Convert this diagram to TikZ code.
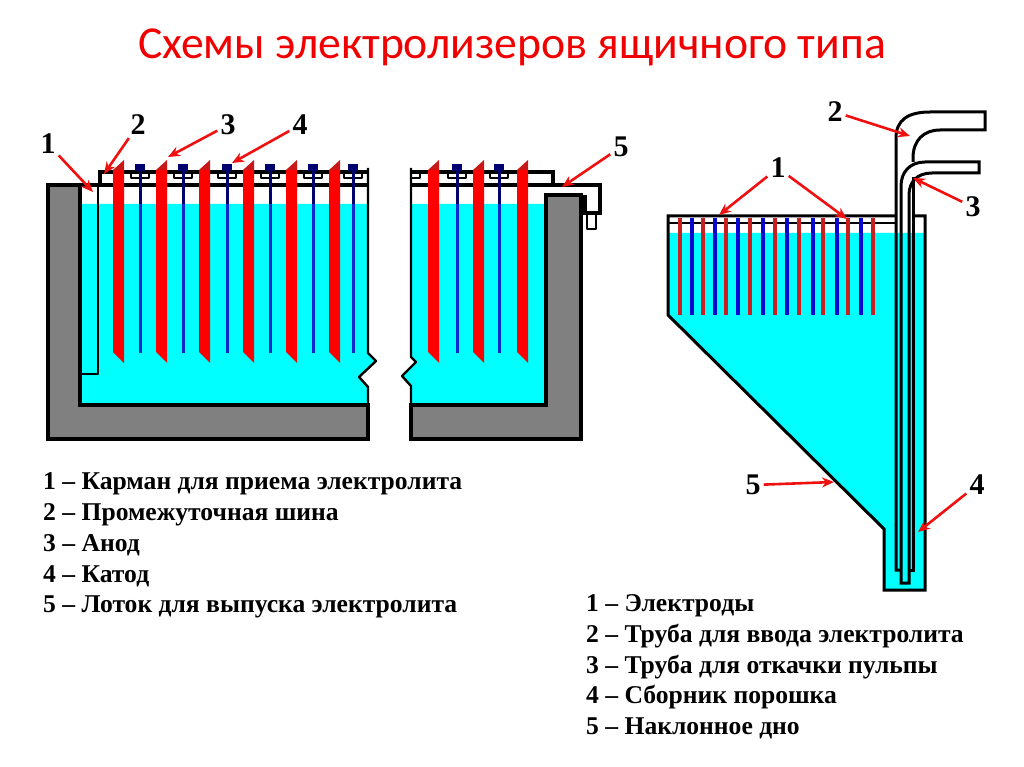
\documentclass[tikz,border=0pt]{standalone}
\usepackage{fontspec}
\setmainfont{Liberation Serif}
\newfontfamily\titlefont{Carlito}
\usetikzlibrary{arrows.meta}

\begin{document}
\begin{tikzpicture}[x=1pt, y=-1pt]

% ---------------------------------------------------------------- colours
\definecolor{bath}{HTML}{00FFFF}     % electrolyte
\definecolor{wall}{HTML}{808080}     % lining
\definecolor{anode}{HTML}{FF0000}
\definecolor{anodetop}{HTML}{C81818}
\definecolor{cathode}{HTML}{0A2ACC}
\definecolor{cathodehead}{HTML}{00006E}
\definecolor{platered}{HTML}{C82020}
\definecolor{plateblue}{HTML}{0808D0}
\definecolor{arrowred}{HTML}{F01010}
\definecolor{titlered}{HTML}{F00000}

\tikzset{
    outline/.style={draw=black, line width=3.4pt, line join=miter},
    pipeline/.style={draw=black, line width=3pt, line join=miter},
    thinline/.style={draw=black, line width=2.4pt, line join=round},
    callout/.style={draw=arrowred, line width=2.6pt, -{Stealth[length=12pt, width=10pt]}},
    num/.style={font=\fontsize{30}{30}\selectfont\bfseries, inner sep=3pt},
    legend/.style={font=\fontsize{25.6}{30}\selectfont\bfseries, anchor=base west, inner sep=0pt},
}

\useasboundingbox (0,0) rectangle (1024,767);

\node[font=\titlefont\fontsize{45.7}{54}\selectfont, text=titlered] (title) at (512,47)
    {Схемы электролизеров ящичного типа};

% ================================================================
% LEFT CELL
%   outer wall x = 48, inner wall x = 80, right wall x = 546 .. 581
%   break in the tank x = 368 .. 411
%   bath surface y = 204, floor y = 405, base y = 439
% ================================================================

% ---------------------------------------------------------------- bath
\fill[bath] (80,204) -- (368,204) -- (368,353) -- (376,361) -- (359,377)
    -- (368,387) -- (368,405) -- (80,405) -- cycle;
\fill[bath] (411,204) -- (546,204) -- (546,405) -- (411,405) -- (411,386)
    -- (402,376) -- (416,362) -- (411,357) -- cycle;

% ---------------------------------------------------------------- lining
\filldraw[outline, fill=wall] (368,405) -- (80,405) -- (80,185) -- (48,185)
    -- (48,439) -- (368,439) -- cycle;
\filldraw[outline, fill=wall] (411,405) -- (546,405) -- (546,195) -- (581,195)
    -- (581,439) -- (411,439) -- cycle;

% ---------------------------------------------------------------- pocket, bus, broken edges
\draw[thinline] (80,374) -- (98,374) -- (98,185);
\draw[outline] (80,185) -- (368,185);
\draw[outline] (100,185) -- (100,172) -- (368,172);
\draw[thinline] (368,168) -- (368,353) -- (376,361) -- (359,377) -- (368,387) -- (368,405);
\draw[thinline] (411,168) -- (411,357) -- (416,362) -- (402,376) -- (411,386) -- (411,405);
\draw[outline] (411,172) -- (553,172) -- (553,185);
\draw[outline] (411,185) -- (600,185) -- (600,213) -- (585,213) -- (585,195);
\draw[thinline] (587,213) -- (587,229) -- (596,229) -- (596,213);
\draw[thinline] (411,178) -- (420,178) -- (420,172);

% ---------------------------------------------------------------- anodes
\foreach \x in {113,156,199,243,286,329,428,473,517} {
    \fill[anode] (\x,170) -- (\x+11,170) -- (\x+11,363) -- (\x,352) -- cycle;
    \fill[anodetop] (\x,170) -- (\x+11,160) -- (\x+11,170) -- cycle;
}

% ---------------------------------------------------------------- cathodes
\foreach \x in {140,183,227,270,313,353,457,499} {
    \draw[thinline] (\x-9,172) -- (\x-9,178) -- (\x+9,178) -- (\x+9,172);
    \fill[cathode] (\x-1.5,170) rectangle (\x+1.5,353);
    \fill[cathodehead] (\x-5,164) rectangle (\x+5,171);
    \fill[cathodehead] (\x-1.5,171) rectangle (\x+1.5,204);
}

% ---------------------------------------------------------------- left callouts
\node[num] (l1) at (48,144) {1};
\node[num] (l2) at (138,125) {2};
\node[num] (l3) at (228,125) {3};
\node[num] (l4) at (300,125) {4};
\node[num] (l5) at (621,147) {5};
\coordinate (pocket) at (93,192);
\coordinate (bus) at (104,174);
\coordinate (anodetip) at (168,157);
\coordinate (cathodetip) at (232,163);
\coordinate (chute) at (562,187);
\draw[callout] (l1) -- (pocket);
\draw[callout] (l2) -- (bus);
\draw[callout] (l3) -- (anodetip);
\draw[callout] (l4) -- (cathodetip);
\draw[callout] (l5) -- (chute);

% ---------------------------------------------------------------- left legend
\node[legend] (a1) at (43,489) {1 – Карман для приема электролита};
\node[legend] (a2) at (43,520) {2 – Промежуточная шина};
\node[legend] (a3) at (43,551) {3 – Анод};
\node[legend] (a4) at (43,582) {4 – Катод};
\node[legend] (a5) at (43,612) {5 – Лоток для выпуска электролита};

% ================================================================
% RIGHT CELL
%   tank x = 668 .. 925, rim y = 216, bath surface y = 233
%   sloped bottom (668,315) .. (884,529), sump bottom y = 590
% ================================================================

\fill[bath] (668,233) -- (925,233) -- (925,590) -- (884,590) -- (884,529)
    -- (668,315) -- cycle;

% ---------------------------------------------------------------- tank
\draw[pipeline] (896,216) -- (668,216) -- (668,315) -- (884,529)
    -- (884,590) -- (925,590) -- (925,216) -- (913,216);
\draw[thinline] (668,223) -- (896,223);

% ---------------------------------------------------------------- plates
\foreach \x/\c in {680/platered, 692/plateblue, 703/platered, 715/plateblue,
    726/platered, 738/plateblue, 750/platered, 763/plateblue, 775/platered,
    787/plateblue, 799/platered, 813/plateblue, 823/platered, 837/plateblue,
    848/platered, 861/plateblue, 873/platered} {
    \fill[\c] (\x-2,218) rectangle (\x+2,315);
}

% ---------------------------------------------------------------- feed pipe and pulp pipe
\draw[pipeline] (901,570) -- (896,570) -- (896,138)
    .. controls (896,120) and (908,112) .. (930,112) -- (985,112) -- (985,130)
    -- (940,130) .. controls (924,130) and (913,140) .. (913,158) -- (913,162);
\draw[pipeline] (913,177) -- (913,570) -- (909,570);
\draw[pipeline] (901,583) -- (901,186)
    .. controls (901,172) and (910,162) .. (925,162) -- (979,162) -- (979,173)
    -- (932,173) .. controls (917,173) and (909,182) .. (909,195) -- (909,583) -- cycle;

% ---------------------------------------------------------------- right callouts
\node[num] (r1) at (778,168) {1};
\node[num] (r2) at (835,112) {2};
\node[num] (r3) at (973,207) {3};
\node[num] (r4) at (977,485) {4};
\node[num] (r5) at (753,485) {5};
\coordinate (plateA) at (719,215);
\coordinate (plateB) at (847,219);
\coordinate (feed) at (910,136);
\coordinate (pulp) at (913,178);
\coordinate (sump) at (918,532);
\coordinate (slope) at (834,482);
\draw[callout] (r1) -- (plateA);
\draw[callout] (r1) -- (plateB);
\draw[callout] (r2) -- (feed);
\draw[callout] (r3) -- (pulp);
\draw[callout] (r4) -- (sump);
\draw[callout] (r5) -- (slope);

% ---------------------------------------------------------------- right legend
\node[legend] (b1) at (586,611) {1 – Электроды};
\node[legend] (b2) at (586,642) {2 – Труба для ввода электролита};
\node[legend] (b3) at (586,673) {3 – Труба для откачки пульпы};
\node[legend] (b4) at (586,703) {4 – Сборник порошка};
\node[legend] (b5) at (586,734) {5 – Наклонное дно};

\end{tikzpicture}
\end{document}
